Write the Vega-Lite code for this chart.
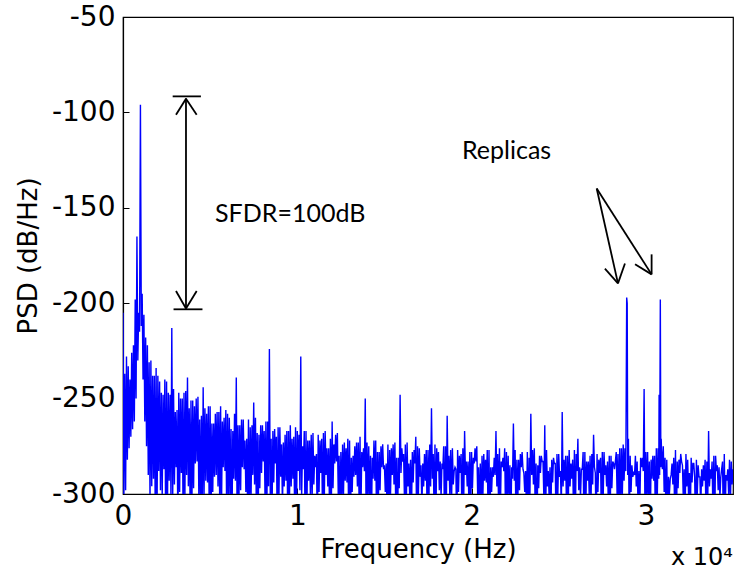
{
  "$schema": "https://vega.github.io/schema/vega-lite/v6.json",
  "width": 610,
  "height": 477,
  "autosize": "none",
  "padding": {"left": 123, "top": 17, "right": 2, "bottom": 81},
  "background": "white",
  "config": {
    "view": {"stroke": "black", "strokeWidth": 1.2},
    "axis": {"grid": false, "domainColor": "black", "tickColor": "black", "labelColor": "black", "titleColor": "black", "labelFont": "DejaVu Sans", "titleFont": "DejaVu Sans", "labelFontSize": 28, "titleFontSize": 26, "titleFontWeight": "normal", "tickSize": -6, "domainWidth": 1.2, "labelFlush": false},
    "title": {"font": "DejaVu Sans", "fontSize": 24, "fontWeight": "normal", "color": "black"}
  },
  "title": {"text": "x 10⁴", "orient": "bottom", "anchor": "end", "offset": -16},
  "datasets": {
    "psd": [
      {"f":0,"p":-205},{"f":50,"p":-300},{"f":100,"p":-237},{"f":150,"p":-298},{"f":200,"p":-228},{"f":250,"p":-282},{"f":300,"p":-233},{"f":350,"p":-276},{"f":400,"p":-240},{"f":450,"p":-270},
      {"f":500,"p":-226},{"f":550,"p":-266},{"f":600,"p":-222},{"f":650,"p":-262},{"f":700,"p":-198},{"f":750,"p":-250},{"f":800,"p":-165},{"f":850,"p":-230},{"f":900,"p":-205},{"f":950,"p":-215},
      {"f":1000,"p":-96},{"f":1050,"p":-212},{"f":1100,"p":-195},{"f":1150,"p":-240},{"f":1200,"p":-206},{"f":1250,"p":-262},{"f":1300,"p":-218},{"f":1350,"p":-275},{"f":1400,"p":-222},{"f":1450,"p":-290},
      {"f":1500,"p":-231},{"f":1550,"p":-305},{"f":1600,"p":-230},{"f":1650,"p":-296},{"f":1700,"p":-238},{"f":1750,"p":-292},{"f":1800,"p":-238},{"f":1850,"p":-311},{"f":1900,"p":-234},{"f":1950,"p":-318},
      {"f":2000,"p":-238},{"f":2050,"p":-288},{"f":2100,"p":-241},{"f":2150,"p":-298},{"f":2200,"p":-247},{"f":2250,"p":-302},{"f":2300,"p":-248},{"f":2350,"p":-287},{"f":2400,"p":-240},{"f":2450,"p":-320},
      {"f":2500,"p":-241},{"f":2550,"p":-310},{"f":2600,"p":-247},{"f":2650,"p":-293},{"f":2700,"p":-248},{"f":2750,"p":-300},{"f":2800,"p":-213},{"f":2850,"p":-305},{"f":2900,"p":-245},{"f":2950,"p":-295},
      {"f":3000,"p":-257},{"f":3050,"p":-286},{"f":3100,"p":-256},{"f":3150,"p":-322},{"f":3200,"p":-247},{"f":3250,"p":-299},{"f":3300,"p":-250},{"f":3350,"p":-289},{"f":3400,"p":-250},{"f":3450,"p":-316},
      {"f":3500,"p":-247},{"f":3550,"p":-303},{"f":3600,"p":-246},{"f":3650,"p":-290},{"f":3700,"p":-239},{"f":3750,"p":-296},{"f":3800,"p":-255},{"f":3850,"p":-308},{"f":3900,"p":-251},{"f":3950,"p":-312},
      {"f":4000,"p":-251},{"f":4050,"p":-297},{"f":4100,"p":-254},{"f":4150,"p":-284},{"f":4200,"p":-250},{"f":4250,"p":-283},{"f":4300,"p":-249},{"f":4350,"p":-300},{"f":4400,"p":-261},{"f":4450,"p":-313},
      {"f":4500,"p":-259},{"f":4550,"p":-308},{"f":4600,"p":-244},{"f":4650,"p":-301},{"f":4700,"p":-255},{"f":4750,"p":-293},{"f":4800,"p":-258},{"f":4850,"p":-294},{"f":4900,"p":-254},{"f":4950,"p":-315},
      {"f":5000,"p":-254},{"f":5050,"p":-319},{"f":5100,"p":-263},{"f":5150,"p":-299},{"f":5200,"p":-263},{"f":5250,"p":-291},{"f":5300,"p":-258},{"f":5350,"p":-290},{"f":5400,"p":-257},{"f":5450,"p":-296},
      {"f":5500,"p":-257},{"f":5550,"p":-306},{"f":5600,"p":-254},{"f":5650,"p":-311},{"f":5700,"p":-262},{"f":5750,"p":-286},{"f":5800,"p":-260},{"f":5850,"p":-288},{"f":5900,"p":-256},{"f":5950,"p":-313},
      {"f":6000,"p":-258},{"f":6050,"p":-302},{"f":6100,"p":-260},{"f":6150,"p":-305},{"f":6200,"p":-266},{"f":6250,"p":-320},{"f":6300,"p":-267},{"f":6350,"p":-292},{"f":6400,"p":-258},{"f":6450,"p":-293},
      {"f":6500,"p":-239},{"f":6550,"p":-318},{"f":6600,"p":-264},{"f":6650,"p":-305},{"f":6700,"p":-264},{"f":6750,"p":-298},{"f":6800,"p":-261},{"f":6850,"p":-286},{"f":6900,"p":-261},{"f":6950,"p":-287},
      {"f":7000,"p":-272},{"f":7050,"p":-299},{"f":7100,"p":-271},{"f":7150,"p":-310},{"f":7200,"p":-261},{"f":7250,"p":-316},{"f":7300,"p":-265},{"f":7350,"p":-300},{"f":7400,"p":-264},{"f":7450,"p":-290},
      {"f":7500,"p":-252},{"f":7550,"p":-295},{"f":7600,"p":-260},{"f":7650,"p":-308},{"f":7700,"p":-268},{"f":7750,"p":-322},{"f":7800,"p":-269},{"f":7850,"p":-297},{"f":7900,"p":-264},{"f":7950,"p":-289},
      {"f":8000,"p":-264},{"f":8050,"p":-283},{"f":8100,"p":-267},{"f":8150,"p":-303},{"f":8200,"p":-262},{"f":8250,"p":-313},{"f":8300,"p":-262},{"f":8350,"p":-296},{"f":8400,"p":-224},{"f":8450,"p":-301},
      {"f":8500,"p":-271},{"f":8550,"p":-312},{"f":8600,"p":-267},{"f":8650,"p":-294},{"f":8700,"p":-266},{"f":8750,"p":-284},{"f":8800,"p":-270},{"f":8850,"p":-319},{"f":8900,"p":-265},{"f":8950,"p":-300},
      {"f":9000,"p":-265},{"f":9050,"p":-291},{"f":9100,"p":-274},{"f":9150,"p":-308},{"f":9200,"p":-273},{"f":9250,"p":-296},{"f":9300,"p":-269},{"f":9350,"p":-293},{"f":9400,"p":-267},{"f":9450,"p":-311},
      {"f":9500,"p":-267},{"f":9550,"p":-305},{"f":9600,"p":-264},{"f":9650,"p":-296},{"f":9700,"p":-271},{"f":9750,"p":-292},{"f":9800,"p":-270},{"f":9850,"p":-311},{"f":9900,"p":-265},{"f":9950,"p":-318},
      {"f":10000,"p":-267},{"f":10050,"p":-288},{"f":10100,"p":-269},{"f":10150,"p":-298},{"f":10200,"p":-228},{"f":10250,"p":-302},{"f":10300,"p":-275},{"f":10350,"p":-287},{"f":10400,"p":-267},{"f":10450,"p":-320},
      {"f":10500,"p":-267},{"f":10550,"p":-310},{"f":10600,"p":-272},{"f":10650,"p":-293},{"f":10700,"p":-272},{"f":10750,"p":-300},{"f":10800,"p":-269},{"f":10850,"p":-305},{"f":10900,"p":-268},{"f":10950,"p":-295},
      {"f":11000,"p":-280},{"f":11050,"p":-286},{"f":11100,"p":-279},{"f":11150,"p":-322},{"f":11200,"p":-269},{"f":11250,"p":-299},{"f":11300,"p":-272},{"f":11350,"p":-289},{"f":11400,"p":-271},{"f":11450,"p":-316},
      {"f":11500,"p":-268},{"f":11550,"p":-303},{"f":11600,"p":-267},{"f":11650,"p":-290},{"f":11700,"p":-276},{"f":11750,"p":-296},{"f":11800,"p":-276},{"f":11850,"p":-308},{"f":11900,"p":-271},{"f":11950,"p":-312},
      {"f":12000,"p":-262},{"f":12050,"p":-297},{"f":12100,"p":-274},{"f":12150,"p":-284},{"f":12200,"p":-269},{"f":12250,"p":-283},{"f":12300,"p":-268},{"f":12350,"p":-300},{"f":12400,"p":-280},{"f":12450,"p":-313},
      {"f":12500,"p":-278},{"f":12550,"p":-308},{"f":12600,"p":-274},{"f":12650,"p":-301},{"f":12700,"p":-273},{"f":12750,"p":-293},{"f":12800,"p":-276},{"f":12850,"p":-294},{"f":12900,"p":-271},{"f":12950,"p":-315},
      {"f":13000,"p":-272},{"f":13050,"p":-319},{"f":13100,"p":-281},{"f":13150,"p":-299},{"f":13200,"p":-280},{"f":13250,"p":-291},{"f":13300,"p":-275},{"f":13350,"p":-290},{"f":13400,"p":-273},{"f":13450,"p":-296},
      {"f":13500,"p":-273},{"f":13550,"p":-306},{"f":13600,"p":-270},{"f":13650,"p":-311},{"f":13700,"p":-278},{"f":13750,"p":-286},{"f":13800,"p":-276},{"f":13850,"p":-288},{"f":13900,"p":-250},{"f":13950,"p":-313},
      {"f":14000,"p":-273},{"f":14050,"p":-302},{"f":14100,"p":-275},{"f":14150,"p":-305},{"f":14200,"p":-280},{"f":14250,"p":-320},{"f":14300,"p":-281},{"f":14350,"p":-292},{"f":14400,"p":-272},{"f":14450,"p":-293},
      {"f":14500,"p":-272},{"f":14550,"p":-318},{"f":14600,"p":-278},{"f":14650,"p":-305},{"f":14700,"p":-278},{"f":14750,"p":-298},{"f":14800,"p":-275},{"f":14850,"p":-286},{"f":14900,"p":-274},{"f":14950,"p":-287},
      {"f":15000,"p":-285},{"f":15050,"p":-299},{"f":15100,"p":-284},{"f":15150,"p":-310},{"f":15200,"p":-274},{"f":15250,"p":-316},{"f":15300,"p":-277},{"f":15350,"p":-300},{"f":15400,"p":-276},{"f":15450,"p":-290},
      {"f":15500,"p":-274},{"f":15550,"p":-295},{"f":15600,"p":-273},{"f":15650,"p":-308},{"f":15700,"p":-281},{"f":15750,"p":-322},{"f":15800,"p":-281},{"f":15850,"p":-297},{"f":15900,"p":-248},{"f":15950,"p":-289},
      {"f":16000,"p":-276},{"f":16050,"p":-283},{"f":16100,"p":-279},{"f":16150,"p":-303},{"f":16200,"p":-274},{"f":16250,"p":-313},{"f":16300,"p":-273},{"f":16350,"p":-296},{"f":16400,"p":-284},{"f":16450,"p":-301},
      {"f":16500,"p":-282},{"f":16550,"p":-312},{"f":16600,"p":-278},{"f":16650,"p":-294},{"f":16700,"p":-277},{"f":16750,"p":-284},{"f":16800,"p":-270},{"f":16850,"p":-319},{"f":16900,"p":-275},{"f":16950,"p":-300},
      {"f":17000,"p":-276},{"f":17050,"p":-291},{"f":17100,"p":-285},{"f":17150,"p":-308},{"f":17200,"p":-284},{"f":17250,"p":-296},{"f":17300,"p":-279},{"f":17350,"p":-293},{"f":17400,"p":-277},{"f":17450,"p":-311},
      {"f":17500,"p":-277},{"f":17550,"p":-305},{"f":17600,"p":-274},{"f":17650,"p":-296},{"f":17700,"p":-255},{"f":17750,"p":-292},{"f":17800,"p":-279},{"f":17850,"p":-311},{"f":17900,"p":-274},{"f":17950,"p":-318},
      {"f":18000,"p":-276},{"f":18050,"p":-288},{"f":18100,"p":-278},{"f":18150,"p":-298},{"f":18200,"p":-283},{"f":18250,"p":-302},{"f":18300,"p":-284},{"f":18350,"p":-287},{"f":18400,"p":-275},{"f":18450,"p":-320},
      {"f":18500,"p":-275},{"f":18550,"p":-310},{"f":18600,"p":-259},{"f":18650,"p":-293},{"f":18700,"p":-280},{"f":18750,"p":-300},{"f":18800,"p":-277},{"f":18850,"p":-305},{"f":18900,"p":-276},{"f":18950,"p":-295},
      {"f":19000,"p":-288},{"f":19050,"p":-286},{"f":19100,"p":-287},{"f":19150,"p":-322},{"f":19200,"p":-277},{"f":19250,"p":-299},{"f":19300,"p":-280},{"f":19350,"p":-289},{"f":19400,"p":-279},{"f":19450,"p":-316},
      {"f":19500,"p":-276},{"f":19550,"p":-303},{"f":19600,"p":-267},{"f":19650,"p":-290},{"f":19700,"p":-283},{"f":19750,"p":-296},{"f":19800,"p":-283},{"f":19850,"p":-308},{"f":19900,"p":-278},{"f":19950,"p":-312},
      {"f":20000,"p":-278},{"f":20050,"p":-297},{"f":20100,"p":-281},{"f":20150,"p":-284},{"f":20200,"p":-276},{"f":20250,"p":-283},{"f":20300,"p":-275},{"f":20350,"p":-300},{"f":20400,"p":-286},{"f":20450,"p":-313},
      {"f":20500,"p":-284},{"f":20550,"p":-308},{"f":20600,"p":-280},{"f":20650,"p":-301},{"f":20700,"p":-279},{"f":20750,"p":-293},{"f":20800,"p":-282},{"f":20850,"p":-294},{"f":20900,"p":-277},{"f":20950,"p":-315},
      {"f":21000,"p":-277},{"f":21050,"p":-319},{"f":21100,"p":-286},{"f":21150,"p":-299},{"f":21200,"p":-286},{"f":21250,"p":-291},{"f":21300,"p":-281},{"f":21350,"p":-290},{"f":21400,"p":-267},{"f":21450,"p":-296},
      {"f":21500,"p":-279},{"f":21550,"p":-306},{"f":21600,"p":-276},{"f":21650,"p":-311},{"f":21700,"p":-283},{"f":21750,"p":-286},{"f":21800,"p":-281},{"f":21850,"p":-288},{"f":21900,"p":-276},{"f":21950,"p":-313},
      {"f":22000,"p":-278},{"f":22050,"p":-302},{"f":22100,"p":-280},{"f":22150,"p":-305},{"f":22200,"p":-285},{"f":22250,"p":-320},{"f":22300,"p":-286},{"f":22350,"p":-292},{"f":22400,"p":-263},{"f":22450,"p":-293},
      {"f":22500,"p":-277},{"f":22550,"p":-318},{"f":22600,"p":-282},{"f":22650,"p":-305},{"f":22700,"p":-282},{"f":22750,"p":-298},{"f":22800,"p":-279},{"f":22850,"p":-286},{"f":22900,"p":-278},{"f":22950,"p":-287},
      {"f":23000,"p":-289},{"f":23050,"p":-299},{"f":23100,"p":-288},{"f":23150,"p":-310},{"f":23200,"p":-278},{"f":23250,"p":-316},{"f":23300,"p":-281},{"f":23350,"p":-300},{"f":23400,"p":-258},{"f":23450,"p":-290},
      {"f":23500,"p":-277},{"f":23550,"p":-295},{"f":23600,"p":-276},{"f":23650,"p":-308},{"f":23700,"p":-284},{"f":23750,"p":-322},{"f":23800,"p":-285},{"f":23850,"p":-297},{"f":23900,"p":-280},{"f":23950,"p":-289},
      {"f":24000,"p":-280},{"f":24050,"p":-283},{"f":24100,"p":-283},{"f":24150,"p":-303},{"f":24200,"p":-264},{"f":24250,"p":-313},{"f":24300,"p":-277},{"f":24350,"p":-296},{"f":24400,"p":-288},{"f":24450,"p":-301},
      {"f":24500,"p":-286},{"f":24550,"p":-312},{"f":24600,"p":-282},{"f":24650,"p":-294},{"f":24700,"p":-281},{"f":24750,"p":-284},{"f":24800,"p":-284},{"f":24850,"p":-319},{"f":24900,"p":-279},{"f":24950,"p":-300},
      {"f":25000,"p":-279},{"f":25050,"p":-291},{"f":25100,"p":-288},{"f":25150,"p":-308},{"f":25200,"p":-257},{"f":25250,"p":-296},{"f":25300,"p":-282},{"f":25350,"p":-293},{"f":25400,"p":-280},{"f":25450,"p":-311},
      {"f":25500,"p":-280},{"f":25550,"p":-305},{"f":25600,"p":-277},{"f":25650,"p":-296},{"f":25700,"p":-284},{"f":25750,"p":-292},{"f":25800,"p":-282},{"f":25850,"p":-311},{"f":25900,"p":-277},{"f":25950,"p":-318},
      {"f":26000,"p":-279},{"f":26050,"p":-288},{"f":26100,"p":-271},{"f":26150,"p":-298},{"f":26200,"p":-286},{"f":26250,"p":-302},{"f":26300,"p":-287},{"f":26350,"p":-287},{"f":26400,"p":-278},{"f":26450,"p":-320},
      {"f":26500,"p":-278},{"f":26550,"p":-310},{"f":26600,"p":-283},{"f":26650,"p":-293},{"f":26700,"p":-283},{"f":26750,"p":-300},{"f":26800,"p":-280},{"f":26850,"p":-305},{"f":26900,"p":-279},{"f":26950,"p":-295},
      {"f":27000,"p":-269},{"f":27050,"p":-286},{"f":27100,"p":-289},{"f":27150,"p":-322},{"f":27200,"p":-279},{"f":27250,"p":-299},{"f":27300,"p":-282},{"f":27350,"p":-289},{"f":27400,"p":-281},{"f":27450,"p":-316},
      {"f":27500,"p":-278},{"f":27550,"p":-303},{"f":27600,"p":-278},{"f":27650,"p":-290},{"f":27700,"p":-285},{"f":27750,"p":-296},{"f":27800,"p":-283},{"f":27850,"p":-308},{"f":27900,"p":-280},{"f":27950,"p":-312},
      {"f":28000,"p":-280},{"f":28050,"p":-297},{"f":28100,"p":-283},{"f":28150,"p":-284},{"f":28200,"p":-287},{"f":28250,"p":-283},{"f":28300,"p":-278},{"f":28350,"p":-300},{"f":28400,"p":-279},{"f":28450,"p":-313},
      {"f":28500,"p":-276},{"f":28550,"p":-308},{"f":28600,"p":-276},{"f":28650,"p":-301},{"f":28700,"p":-274},{"f":28750,"p":-293},{"f":28800,"p":-276},{"f":28850,"p":-288},{"f":28900,"p":-197},{"f":28930,"p":-200},
      {"f":28960,"p":-290},{"f":29000,"p":-271},{"f":29050,"p":-319},{"f":29100,"p":-280},{"f":29150,"p":-299},{"f":29200,"p":-285},{"f":29250,"p":-291},{"f":29300,"p":-289},{"f":29350,"p":-290},{"f":29400,"p":-280},
      {"f":29450,"p":-296},{"f":29500,"p":-283},{"f":29550,"p":-306},{"f":29600,"p":-288},{"f":29650,"p":-311},{"f":29700,"p":-281},{"f":29750,"p":-286},{"f":29800,"p":-281},{"f":29850,"p":-288},{"f":29900,"p":-245},
      {"f":29950,"p":-313},{"f":30000,"p":-278},{"f":30050,"p":-302},{"f":30100,"p":-278},{"f":30150,"p":-305},{"f":30200,"p":-283},{"f":30250,"p":-320},{"f":30300,"p":-282},{"f":30350,"p":-292},{"f":30400,"p":-280},
      {"f":30450,"p":-293},{"f":30500,"p":-280},{"f":30550,"p":-318},{"f":30600,"p":-276},{"f":30650,"p":-305},{"f":30700,"p":-276},{"f":30740,"p":-292},{"f":30760,"p":-248},{"f":30790,"p":-290},{"f":30830,"p":-198},
      {"f":30860,"p":-286},{"f":30880,"p":-271},{"f":30900,"p":-277},{"f":30950,"p":-287},{"f":31000,"p":-275},{"f":31050,"p":-299},{"f":31100,"p":-281},{"f":31150,"p":-310},{"f":31200,"p":-282},{"f":31250,"p":-316},
      {"f":31300,"p":-291},{"f":31350,"p":-300},{"f":31400,"p":-292},{"f":31450,"p":-290},{"f":31500,"p":-284},{"f":31550,"p":-295},{"f":31600,"p":-281},{"f":31650,"p":-308},{"f":31700,"p":-277},{"f":31750,"p":-322},
      {"f":31800,"p":-283},{"f":31850,"p":-297},{"f":31900,"p":-282},{"f":31950,"p":-289},{"f":32000,"p":-279},{"f":32050,"p":-283},{"f":32100,"p":-285},{"f":32150,"p":-303},{"f":32200,"p":-287},{"f":32250,"p":-313},
      {"f":32300,"p":-279},{"f":32350,"p":-296},{"f":32400,"p":-282},{"f":32450,"p":-301},{"f":32500,"p":-289},{"f":32550,"p":-312},{"f":32600,"p":-281},{"f":32650,"p":-294},{"f":32700,"p":-284},{"f":32750,"p":-284},
      {"f":32800,"p":-291},{"f":32850,"p":-319},{"f":32900,"p":-282},{"f":32950,"p":-300},{"f":33000,"p":-285},{"f":33050,"p":-291},{"f":33100,"p":-291},{"f":33150,"p":-308},{"f":33200,"p":-287},{"f":33250,"p":-296},
      {"f":33300,"p":-285},{"f":33350,"p":-293},{"f":33400,"p":-282},{"f":33450,"p":-311},{"f":33500,"p":-283},{"f":33550,"p":-305},{"f":33600,"p":-267},{"f":33650,"p":-296},{"f":33700,"p":-287},{"f":33750,"p":-292},
      {"f":33800,"p":-283},{"f":33850,"p":-311},{"f":33900,"p":-280},{"f":33950,"p":-318},{"f":34000,"p":-280},{"f":34050,"p":-288},{"f":34100,"p":-285},{"f":34150,"p":-298},{"f":34200,"p":-286},{"f":34250,"p":-302},
      {"f":34300,"p":-291},{"f":34350,"p":-287},{"f":34400,"p":-283},{"f":34450,"p":-320},{"f":34500,"p":-279},{"f":34550,"p":-310},{"f":34600,"p":-290},{"f":34650,"p":-293},{"f":34700,"p":-287},{"f":34750,"p":-300},
      {"f":34800,"p":-282},{"f":34850,"p":-305},{"f":34900,"p":-283},{"f":34950,"p":-295},{"f":35000,"p":-287}
    ],
    "segs": [
      {"x":3614,"y":-92.6,"x2":3614,"y2":-202.8},
      {"x":2850,"y":-91.6,"x2":4470,"y2":-91.6},
      {"x":2900,"y":-203.2,"x2":4560,"y2":-203.2},
      {"x":3614,"y":-92.8,"x2":3041,"y2":-101.2},
      {"x":3614,"y":-92.8,"x2":4228,"y2":-101.2},
      {"x":3614,"y":-202.8,"x2":3041,"y2":-193.6},
      {"x":3614,"y":-202.8,"x2":4228,"y2":-193.6},
      {"x":27180,"y":-139.9,"x2":28400,"y2":-189.6},
      {"x":27180,"y":-139.9,"x2":30330,"y2":-184.9},
      {"x":28400,"y":-189.6,"x2":27650,"y2":-181.9},
      {"x":28400,"y":-189.6,"x2":28800,"y2":-179.2},
      {"x":30330,"y":-184.9,"x2":29380,"y2":-179.6},
      {"x":30330,"y":-184.9,"x2":30330,"y2":-174.4}
    ],
    "notes": [
      {"f":5280,"p":-153,"t":"SFDR=100dB"},
      {"f":19450,"p":-120,"t":"Replicas"}
    ]
  },
  "layer": [
    {
      "data": {"name": "psd"},
      "mark": {"type": "line", "color": "#0000FF", "strokeWidth": 1.4, "clip": true},
      "encoding": {
        "x": {"field": "f", "type": "quantitative", "scale": {"domain": [0, 35000], "nice": false, "zero": false},
              "axis": {"title": "Frequency (Hz)", "values": [0, 10000, 20000, 30000], "labelExpr": "'' + datum.value / 10000", "labelPadding": 14, "titlePadding": 6, "titleX": 295}},
        "y": {"field": "p", "type": "quantitative", "scale": {"domain": [-300, -50], "nice": false, "zero": false},
              "axis": {"title": "PSD (dB/Hz)", "values": [-300, -250, -200, -150, -100, -50], "labelExpr": "'' + datum.value", "labelPadding": 14, "titlePadding": 10}}
      }
    },
    {
      "data": {"name": "segs"},
      "mark": {"type": "rule", "color": "black", "strokeWidth": 1.8},
      "encoding": {
        "x": {"field": "x", "type": "quantitative"},
        "y": {"field": "y", "type": "quantitative"},
        "x2": {"field": "x2"},
        "y2": {"field": "y2"}
      }
    },
    {
      "data": {"name": "notes"},
      "mark": {"type": "text", "align": "left", "baseline": "middle", "font": "Lato", "fontSize": 25, "color": "black"},
      "encoding": {
        "x": {"field": "f", "type": "quantitative"},
        "y": {"field": "p", "type": "quantitative"},
        "text": {"field": "t"}
      }
    }
  ]
}
